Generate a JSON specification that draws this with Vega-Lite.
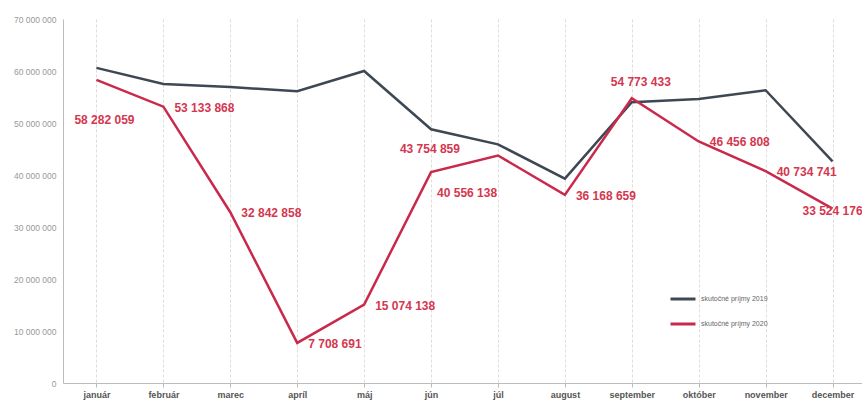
{
  "$schema": "https://vega.github.io/schema/vega-lite/v6.json",
  "width": 803,
  "height": 364,
  "autosize": "none",
  "padding": {"left": 63, "top": 19, "right": 0, "bottom": 18},
  "config": {
    "locale": {"number": {"decimal": ",", "thousands": " ", "grouping": [3], "currency": ["", ""]}},
    "view": {"stroke": null},
    "font": "Liberation Sans"
  },
  "data": {
    "values": [
      {"month": "január", "series": "skutočné príjmy 2019", "value": 60600000},
      {"month": "február", "series": "skutočné príjmy 2019", "value": 57500000},
      {"month": "marec", "series": "skutočné príjmy 2019", "value": 56900000},
      {"month": "apríl", "series": "skutočné príjmy 2019", "value": 56100000},
      {"month": "máj", "series": "skutočné príjmy 2019", "value": 60000000},
      {"month": "jún", "series": "skutočné príjmy 2019", "value": 48800000},
      {"month": "júl", "series": "skutočné príjmy 2019", "value": 45900000},
      {"month": "august", "series": "skutočné príjmy 2019", "value": 39300000},
      {"month": "september", "series": "skutočné príjmy 2019", "value": 54000000},
      {"month": "október", "series": "skutočné príjmy 2019", "value": 54600000},
      {"month": "november", "series": "skutočné príjmy 2019", "value": 56300000},
      {"month": "december", "series": "skutočné príjmy 2019", "value": 42600000},
      {"month": "január", "series": "skutočné príjmy 2020", "value": 58282059},
      {"month": "február", "series": "skutočné príjmy 2020", "value": 53133868},
      {"month": "marec", "series": "skutočné príjmy 2020", "value": 32842858},
      {"month": "apríl", "series": "skutočné príjmy 2020", "value": 7708691},
      {"month": "máj", "series": "skutočné príjmy 2020", "value": 15074138},
      {"month": "jún", "series": "skutočné príjmy 2020", "value": 40556138},
      {"month": "júl", "series": "skutočné príjmy 2020", "value": 43754859},
      {"month": "august", "series": "skutočné príjmy 2020", "value": 36168659},
      {"month": "september", "series": "skutočné príjmy 2020", "value": 54773433},
      {"month": "október", "series": "skutočné príjmy 2020", "value": 46456808},
      {"month": "november", "series": "skutočné príjmy 2020", "value": 40734741},
      {"month": "december", "series": "skutočné príjmy 2020", "value": 33524176}
    ]
  },
  "encoding": {
    "x": {
      "field": "month", "type": "ordinal", "sort": null,
      "scale": {"type": "point", "padding": 0.5},
      "axis": {
        "title": null, "labelAngle": 0, "labelFontSize": 9, "labelColor": "#555", "labelFontWeight": "bold",
        "grid": true, "gridColor": "#e0dcd6", "gridDash": [3, 2], "domainColor": "#bbb", "tickColor": "#bbb",
        "tickSize": 4, "labelPadding": 3
      }
    },
    "y": {
      "field": "value", "type": "quantitative",
      "scale": {"domain": [0, 70000000]},
      "axis": {
        "title": null, "values": [0, 10000000, 20000000, 30000000, 40000000, 50000000, 60000000, 70000000],
        "grid": false, "ticks": false, "labelFontSize": 8.5, "labelColor": "#999", "domainColor": "#bbb",
        "labelPadding": 7, "format": ",d"
      }
    }
  },
  "layer": [
    {
      "mark": {"type": "line", "strokeWidth": 2.5},
      "encoding": {
        "color": {
          "field": "series", "type": "nominal",
          "scale": {"domain": ["skutočné príjmy 2019", "skutočné príjmy 2020"], "range": ["#3d4853", "#c92a4b"]},
          "legend": {
            "title": null, "orient": "none", "legendX": 606, "legendY": 266, "symbolType": "stroke",
            "symbolSize": 625, "symbolStrokeWidth": 3, "labelFontSize": 7, "labelColor": "#666", "rowPadding": 5
          }
        }
      }
    },
    {
      "transform": [
        {"filter": {"field": "series", "equal": "skutočné príjmy 2020"}},
        {"filter": {"field": "month", "oneOf": ["február", "marec", "apríl", "máj", "august", "október", "november"]}}
      ],
      "mark": {"type": "text", "align": "left", "baseline": "middle", "dx": 11, "dy": 1, "fontSize": 12, "fontWeight": "bold", "color": "#d4374f"},
      "encoding": {"text": {"field": "value", "type": "quantitative", "format": ",d"}}
    },
    {
      "transform": [
        {"filter": {"field": "series", "equal": "skutočné príjmy 2020"}},
        {"filter": {"field": "month", "equal": "jún"}}
      ],
      "mark": {"type": "text", "align": "left", "baseline": "middle", "dx": 6, "dy": 21, "fontSize": 12, "fontWeight": "bold", "color": "#d4374f"},
      "encoding": {"text": {"field": "value", "type": "quantitative", "format": ",d"}}
    },
    {
      "transform": [
        {"filter": {"field": "series", "equal": "skutočné príjmy 2020"}},
        {"filter": {"field": "month", "equal": "január"}}
      ],
      "mark": {"type": "text", "align": "center", "baseline": "middle", "dx": 8, "dy": 40, "fontSize": 12, "fontWeight": "bold", "color": "#d4374f"},
      "encoding": {"text": {"field": "value", "type": "quantitative", "format": ",d"}}
    },
    {
      "transform": [
        {"filter": {"field": "series", "equal": "skutočné príjmy 2020"}},
        {"filter": {"field": "month", "equal": "júl"}}
      ],
      "mark": {"type": "text", "align": "right", "baseline": "middle", "dx": -38, "dy": -6, "fontSize": 12, "fontWeight": "bold", "color": "#d4374f"},
      "encoding": {"text": {"field": "value", "type": "quantitative", "format": ",d"}}
    },
    {
      "transform": [
        {"filter": {"field": "series", "equal": "skutočné príjmy 2020"}},
        {"filter": {"field": "month", "equal": "september"}}
      ],
      "mark": {"type": "text", "align": "center", "baseline": "middle", "dx": 9, "dy": -16, "fontSize": 12, "fontWeight": "bold", "color": "#d4374f"},
      "encoding": {"text": {"field": "value", "type": "quantitative", "format": ",d"}}
    },
    {
      "transform": [
        {"filter": {"field": "series", "equal": "skutočné príjmy 2020"}},
        {"filter": {"field": "month", "equal": "december"}}
      ],
      "mark": {"type": "text", "align": "center", "baseline": "middle", "dx": 0, "dy": 2, "fontSize": 12, "fontWeight": "bold", "color": "#d4374f"},
      "encoding": {"text": {"field": "value", "type": "quantitative", "format": ",d"}}
    }
  ]
}
